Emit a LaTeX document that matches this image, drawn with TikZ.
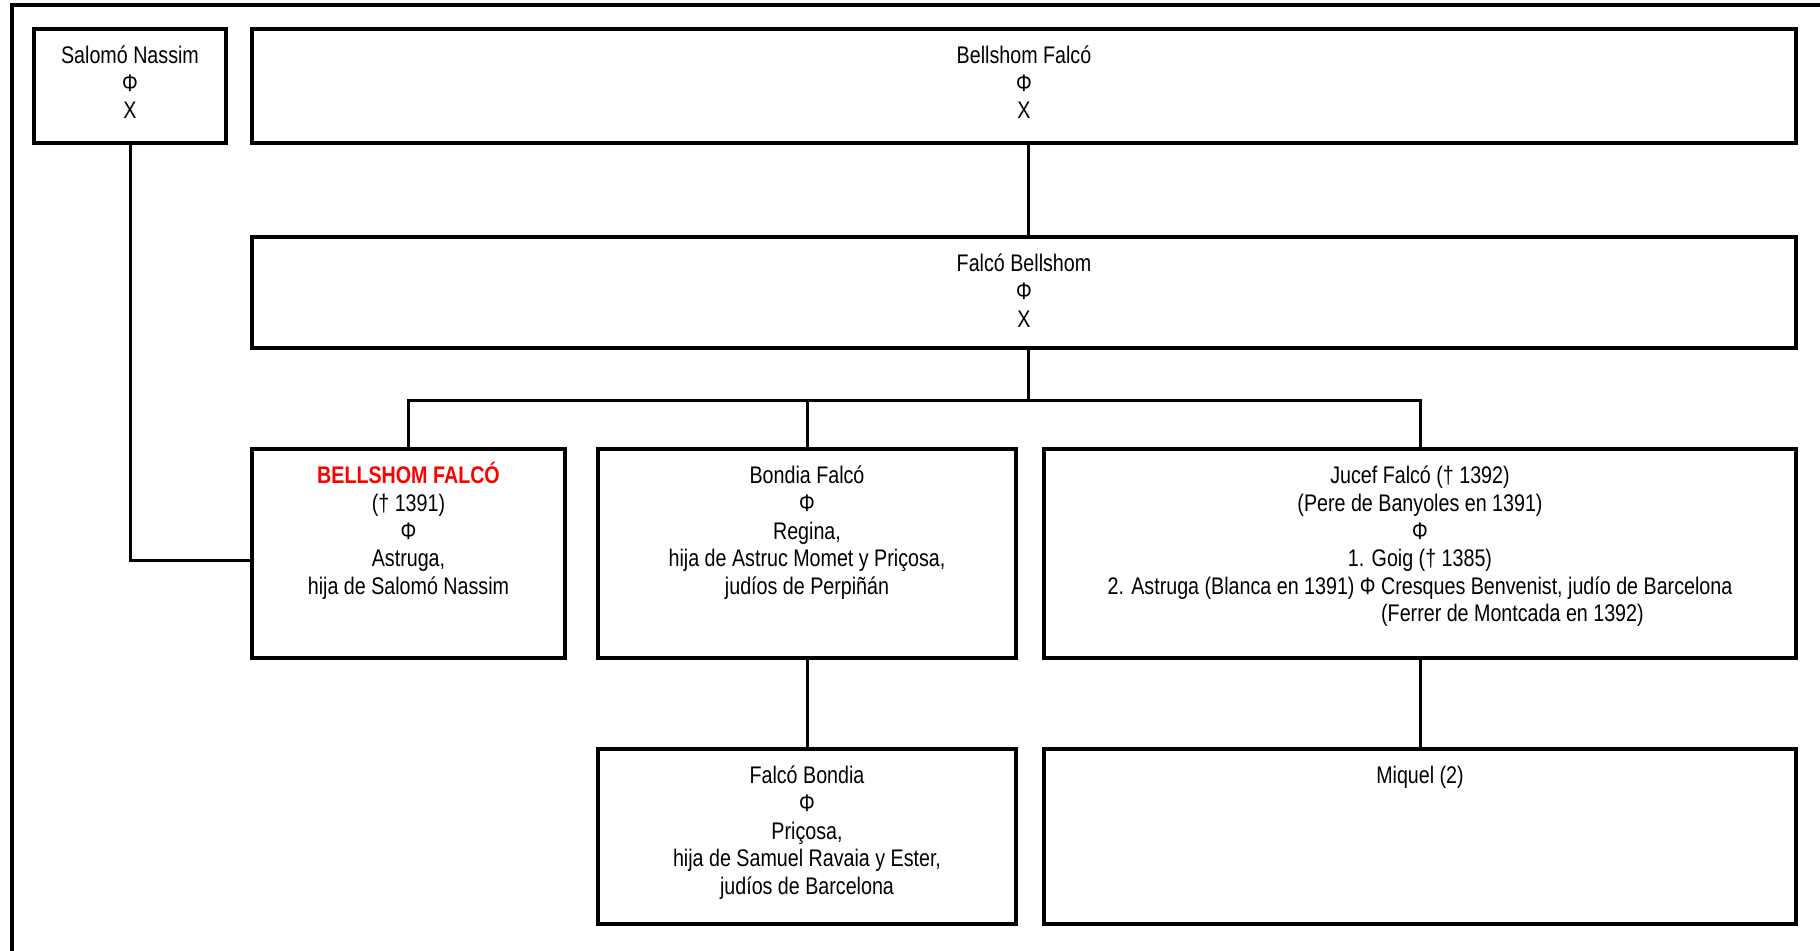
\documentclass[tikz,border=0pt]{standalone}
\usepackage{fontspec}
\setmainfont{Liberation Sans}[FakeStretch=0.82]

\tikzset{
  caja/.style={draw, line width=2pt, anchor=north west, inner sep=0pt, outer sep=0pt},
  texto/.style={anchor=north, text width=360pt, align=flush center, inner sep=0pt, yshift=-5.25pt,
    font=\fontsize{12}{13.8}\selectfont, execute at begin node={\rule{0pt}{12pt}}},
  rama/.style={line width=1.5pt},
}

\begin{document}
\begin{tikzpicture}[x=1pt, y=1pt]

    \useasboundingbox (0,0) rectangle (910,-475);

    % Cadre
    \draw[line width=2pt] (5.8,-480) -- (5.8,-2.3) -- (915,-2.3);

    % Cajas
    \node[caja, minimum width=96pt,  minimum height=57pt]   (sn)  at (17,-14.25)  {};
    \node[caja, minimum width=772pt, minimum height=57pt]   (bf)  at (126,-14.25) {};
    \node[caja, minimum width=772pt, minimum height=55.5pt] (fb)  at (126,-118.5) {};
    \node[caja, minimum width=156.5pt, minimum height=104.5pt] (bel) at (126,-224.5) {};
    \node[caja, minimum width=209pt, minimum height=104.5pt] (bon) at (299,-224.5) {};
    \node[caja, minimum width=376pt, minimum height=104.5pt] (juc) at (522,-224.5) {};
    \node[caja, minimum width=209pt, minimum height=87.5pt]  (fbo) at (299,-374.5) {};
    \node[caja, minimum width=376pt, minimum height=87.5pt]  (miq) at (522,-374.5) {};

    % Textos
    \node[texto] (sn-t)  at (sn.north)  {Salomó Nassim\\Φ\\X};
    \node[texto] (bf-t)  at (bf.north)  {Bellshom Falcó\\Φ\\X};
    \node[texto] (fb-t)  at (fb.north)  {Falcó Bellshom\\Φ\\X};
    \node[texto] (bel-t) at (bel.north)
        {\textcolor{red}{\textbf{BELLSHOM FALCÓ}}\\(† 1391)\\Φ\\Astruga,\\hija de Salomó Nassim};
    \node[texto] (bon-t) at (bon.north)
        {Bondia Falcó\\Φ\\Regina,\\hija de Astruc Momet y Priçosa,\\judíos de Perpiñán};
    \node[texto] (juc-t) at (juc.north)
        {Jucef Falcó († 1392)\\(Pere de Banyoles en 1391)\\Φ\\1. Goig († 1385)\\
         \begin{tabular}[t]{@{}r@{ }l@{}}2. Astruga (Blanca en 1391) Φ & Cresques Benvenist, judío de Barcelona\\
         & (Ferrer de Montcada en 1392)\end{tabular}};
    \node[texto] (fbo-t) at (fbo.north)
        {Falcó Bondia\\Φ\\Priçosa,\\hija de Samuel Ravaia y Ester,\\judíos de Barcelona};
    \node[texto] (miq-t) at (miq.north) {Miquel (2)};

    % Ramas
    \coordinate (barra) at (0,-200);
    \draw[rama] ([xshift=2pt]bf.south) -- ([xshift=2pt]fb.north);
    \draw[rama] ([xshift=2pt]fb.south) -- ([xshift=2pt]fb.south |- barra) -| (bel.north);
    \draw[rama] ([xshift=2pt]fb.south |- barra) -| (bon.north);
    \draw[rama] ([xshift=2pt]fb.south |- barra) -| (juc.north);
    \draw[rama] (sn.south) |- ([yshift=-3.5pt]bel.west);
    \draw[rama] (bon) -- (fbo);
    \draw[rama] (juc) -- (miq);

\end{tikzpicture}
\end{document}
